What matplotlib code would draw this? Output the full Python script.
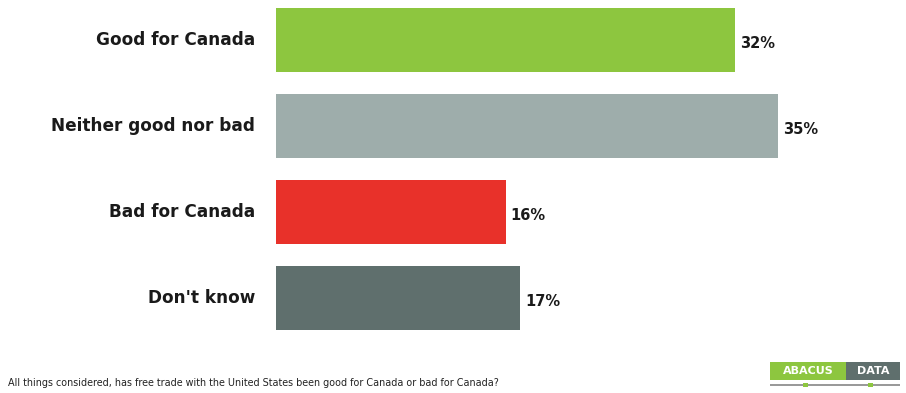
import matplotlib
matplotlib.use("Agg")
import matplotlib.pyplot as plt
from matplotlib.patches import Rectangle

categories = ["Good for Canada", "Neither good nor bad", "Bad for Canada", "Don't know"]
values = [32, 35, 16, 17]
colors = ["#8dc63f", "#9eadab", "#e8312a", "#5f6f6d"]
footnote = "All things considered, has free trade with the United States been good for Canada or bad for Canada?"

W, H = 906, 393
fig = plt.figure(figsize=(W / 100, H / 100), dpi=100)

# axes placed in pixel terms so bars line up with the reference
ax = fig.add_axes([276 / W, (H - 341) / H, 617 / W, 339.7 / H])
ypos = list(range(len(categories)))
ax.barh(ypos, values, height=0.74, color=colors)
ax.set_xlim(0, 43)
ax.set_ylim(3.5, -0.45)
ax.axis("off")

for y, cat, v in zip(ypos, categories, values):
    ax.text(-1.45, y, cat, ha="right", va="center", fontsize=12.2,
            fontweight="bold", color="#1a1a1a")
    ax.text(v + 0.35, y + 0.04, f"{v}%", ha="left", va="center", fontsize=10.5,
            fontweight="bold", color="#1a1a1a")

fig.text(8 / W, 1 - 383 / H, footnote, fontsize=6.9, color="#222222",
         ha="left", va="center")

# logo
def px(x, y):
    return x / W, 1 - y / H

x0, y0 = px(770, 380)
fig.patches.append(Rectangle((x0, y0), 76 / W, 18 / H, transform=fig.transFigure,
                             facecolor="#8dc63f", edgecolor="none"))
x1, _ = px(846, 380)
fig.patches.append(Rectangle((x1, y0), 54 / W, 18 / H, transform=fig.transFigure,
                             facecolor="#5f6f6d", edgecolor="none"))
fig.text(*px(808, 371), "ABACUS", fontsize=8, fontweight="bold", color="white",
         ha="center", va="center")
fig.text(*px(873, 371), "DATA", fontsize=8, fontweight="bold", color="white",
         ha="center", va="center")
lx, ly = px(770, 386)
fig.patches.append(Rectangle((lx, ly), 130 / W, 2 / H, transform=fig.transFigure,
                             facecolor="#9a9a9a", edgecolor="none"))
for mx in (803, 868):
    fig.patches.append(Rectangle((mx / W, ly - 1 / H), 5 / W, 4 / H,
                                 transform=fig.transFigure,
                                 facecolor="#8dc63f", edgecolor="none"))

fig.savefig("out.png", dpi=100, facecolor="white")
